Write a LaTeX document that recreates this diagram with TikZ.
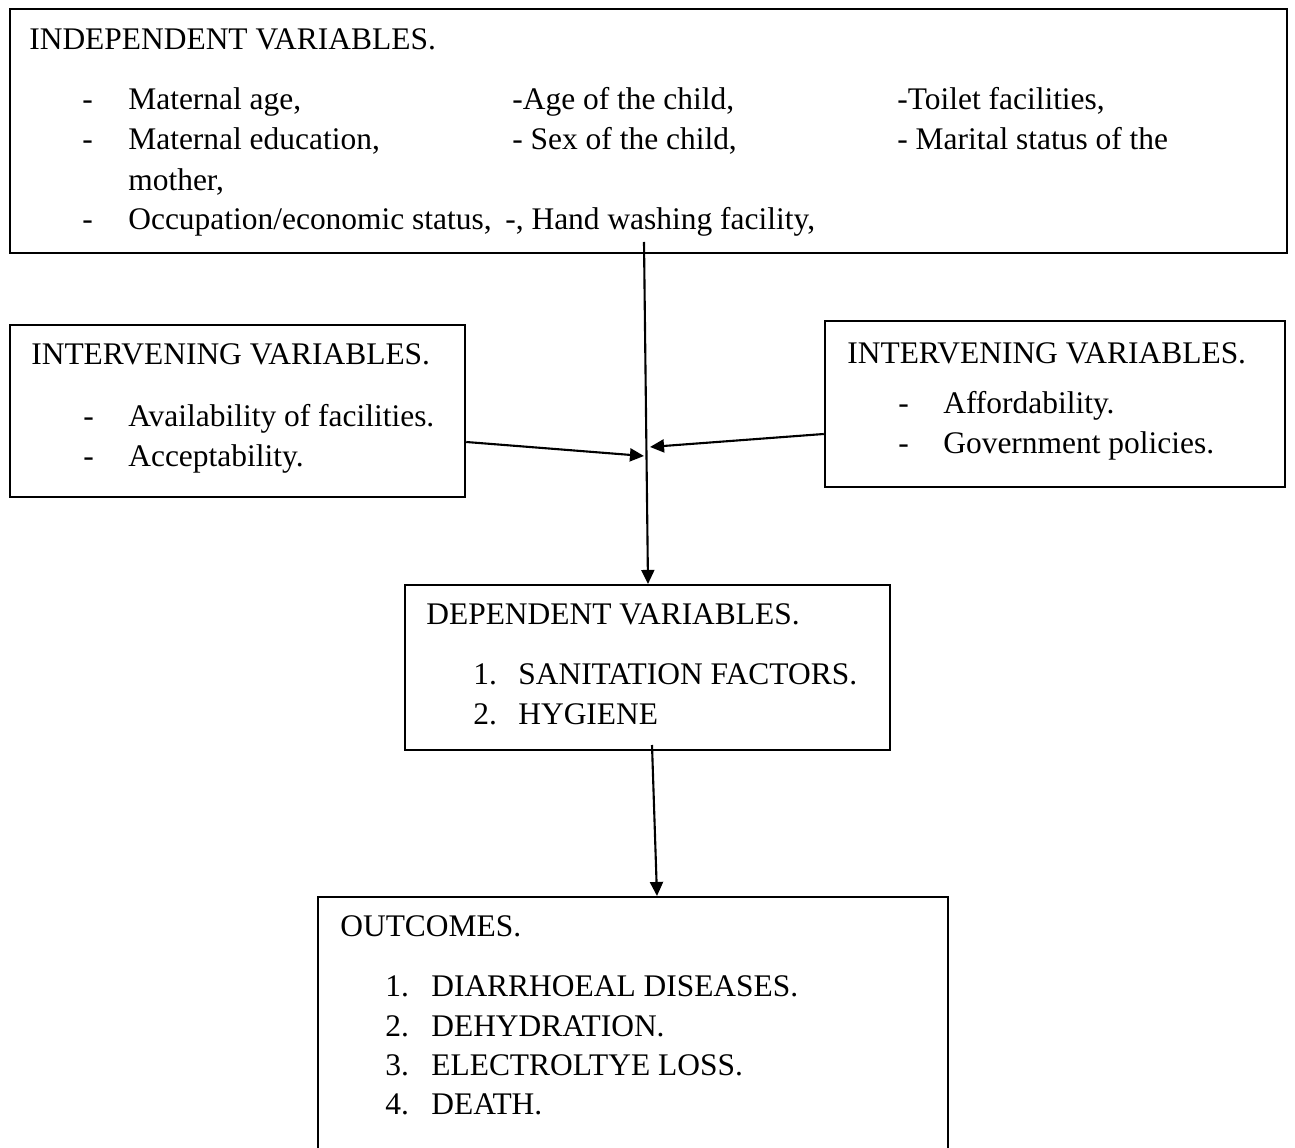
\documentclass[tikz,border=0pt]{standalone}
\usepackage{fontspec}
\setmainfont{Liberation Serif}
\usetikzlibrary{arrows.meta,positioning,fit}

\begin{document}
\begin{tikzpicture}[
  x=0.02cm, y=-0.02cm,
  font=\fontsize{17.9}{22}\selectfont,
  >={Triangle[length=8pt,width=7.4pt]},
  varbox/.style={draw=black, line width=1.4pt, inner sep=0pt},
  link/.style={->, line width=1.2pt},
  txt/.style={anchor=base west, inner sep=0pt}
]
\useasboundingbox (0,0) rectangle (1295,1148);

% Independent variables
\node[varbox, fit={(10,9) (1287,253)}] (indep) {};
\node[txt] (indeptitle) at (29,50) {INDEPENDENT VARIABLES.};
\node[txt] at (82,110) {-};
\node[txt] at (128,110) {Maternal age,};
\node[txt] at (512,110) {-Age of the child,};
\node[txt] at (897,110) {-Toilet facilities,};
\node[txt] at (82,150) {-};
\node[txt] at (128,150) {Maternal education,};
\node[txt] at (512,150) {- Sex of the child,};
\node[txt] at (897,150) {- Marital status of the};
\node[txt] (mother) at (128,191) {mother,};
\node[txt] at (82,230) {-};
\node[txt] (occup) at (128,230) {Occupation/economic status,};
\node[txt] (handwash) at (505,230) {-, Hand washing facility,};

% Intervening variables (left)
\node[varbox, fit={(10,325) (465,497)}] (interL) {};
\node[txt] at (31,365) {INTERVENING VARIABLES.};
\node[txt] at (83,427) {-};
\node[txt] at (128,427) {Availability of facilities.};
\node[txt] at (83,467) {-};
\node[txt] at (128,467) {Acceptability.};

% Intervening variables (right)
\node[varbox, fit={(825,321) (1285,487)}] (interR) {};
\node[txt] at (847,364) {INTERVENING VARIABLES.};
\node[txt] at (898,414) {-};
\node[txt] at (943,414) {Affordability.};
\node[txt] at (898,454) {-};
\node[txt] at (943,454) {Government policies.};

% Dependent variables
\node[varbox, fit={(405,585) (890,750)}] (dep) {};
\node[txt] at (426,624) {DEPENDENT VARIABLES.};
\node[txt] at (473,684) {1.};
\node[txt] at (518,684) {SANITATION FACTORS.};
\node[txt] at (473,724) {2.};
\node[txt] at (518,724) {HYGIENE};

% Outcomes (bottom edge runs off the page)
\node[varbox, fit={(318,897) (948,1170)}] (outc) {};
\node[txt] at (340,936) {OUTCOMES.};
\foreach \n/\y/\item in {1/996/DIARRHOEAL DISEASES.,2/1036/DEHYDRATION.,
                         3/1075/ELECTROLTYE LOSS.,4/1114/DEATH.}{
  \node[txt] at (385,\y) {\n.};
  \node[txt] at (431,\y) {\item};
}

% Connectors
\coordinate (src) at (644,242);
\coordinate (depin) at (648,584);
\coordinate (hubL) at (644,456);
\coordinate (hubR) at (650,447);
\coordinate (depout) at (652,745);
\coordinate (outin) at (657,896);
\draw[link] (src) -- (depin);
\draw[link] ([yshift=-0.62cm]interL.east) -- (hubL);
\draw[link] ([yshift=-0.6cm]interR.west) -- (hubR);
\draw[link] (depout) -- (outin);

\end{tikzpicture}
\end{document}
